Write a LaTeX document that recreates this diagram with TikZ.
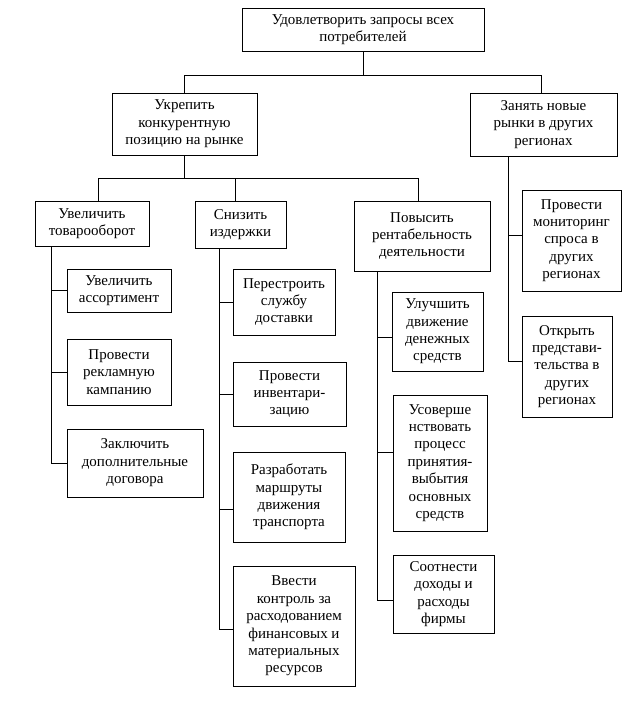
\documentclass[tikz,border=0pt]{standalone}
\usepackage{fontspec}
\setmainfont{Liberation Serif}
\usepackage{tikz}

\begin{document}
\begin{tikzpicture}[x=1pt,y=-1pt,
        goal/.style={draw, line width=0.9pt, align=center, inner sep=1pt,
          font=\fontsize{15}{17.4}\selectfont},
        boxsize/.style 2 args={minimum width=#1pt, minimum height=#2pt},
        link/.style={line width=0.9pt}
      ]
        \useasboundingbox (0,0) rectangle (628,712);

        % Main goal
        \node[goal,boxsize={242}{43}] (top) at (363,29.5) {Удовлетворить запросы всех\\потребителей};

        % Second level
        \node[goal,boxsize={145}{62}] (ukr) at (184.5,124) {Укрепить\\конкурентную\\позицию на рынке};
        \node[goal,boxsize={147}{63}] (zan) at (543.5,124.5) {Занять новые\\рынки в других\\регионах};

        % Third level
        \node[goal,boxsize={114}{45}] (uvt) at (92,223.5) {Увеличить\\товарооборот};
        \node[goal,boxsize={91}{47}] (sni) at (240.5,224.5) {Снизить\\издержки};
        \node[goal,boxsize={136}{70}] (pov) at (422,236) {Повысить\\рентабельность\\деятельности};

        % Under "Увеличить товарооборот"
        \node[goal,boxsize={104}{43}] (ass) at (119,290.5) {Увеличить\\ассортимент};
        \node[goal,boxsize={104}{66}] (rek) at (119,372) {Провести\\рекламную\\кампанию};
        \node[goal,boxsize={136}{68}] (zak) at (135,463) {Заключить\\дополнительные\\договора};

        % Under "Снизить издержки"
        \node[goal,boxsize={102}{66}] (per) at (284,302) {Перестроить\\службу\\доставки};
        \node[goal,boxsize={113}{64}] (inv) at (289.5,394) {Провести\\инвентари-\\зацию};
        \node[goal,boxsize={112}{90}] (raz) at (289,497) {Разработать\\маршруты\\движения\\транспорта};
        \node[goal,boxsize={122}{120}] (vve) at (294,626) {Ввести\\контроль за\\расходованием\\финансовых и\\материальных\\ресурсов};

        % Under "Повысить рентабельность"
        \node[goal,boxsize={91}{79}] (ulu) at (437.5,331.5) {Улучшить\\движение\\денежных\\средств};
        \node[goal,boxsize={94}{136}] (usv) at (440,463) {Усоверше\\нствовать\\процесс\\принятия-\\выбытия\\основных\\средств};
        \node[goal,boxsize={101}{78}] (soo) at (443.5,594) {Соотнести\\доходы и\\расходы\\фирмы};

        % Under "Занять новые рынки"
        \node[goal,boxsize={99}{101}] (mon) at (571.5,240.5) {Провести\\мониторинг\\спроса в\\других\\регионах};
        \node[goal,boxsize={90}{101}] (otk) at (567,366.5) {Открыть\\представи-\\тельства в\\других\\регионах};

        % Tree links
        \draw[link] (top.south) -- ++(0,24) coordinate (j0);
        \draw[link] (ukr.north) |- (j0) -| ([xshift=-2pt]zan.north);
        \draw[link] (ukr.south) -- ++(0,23) coordinate (j1);
        \draw[link] ([xshift=6pt]uvt.north) |- (j1) -| ([xshift=-4pt]pov.north);
        \draw[link] ([xshift=-5pt]sni.north) -- ([xshift=-5pt]sni.north |- j1);

        % Side rails
        \draw[link] ([xshift=17pt]uvt.south west) coordinate (r1) |- (zak.west);
        \draw[link] (ass.west) -- (ass.west -| r1);
        \draw[link] (rek.west) -- (rek.west -| r1);

        \draw[link] ([xshift=25pt]sni.south west) coordinate (r2) |- ([yshift=-3pt]vve.west);
        \draw[link] (per.west) -- (per.west -| r2);
        \draw[link] (inv.west) -- (inv.west -| r2);
        \draw[link] ([yshift=-12pt]raz.west) -- ([yshift=-12pt]raz.west -| r2);

        \draw[link] ([xshift=24pt]pov.south west) coordinate (r3) |- ([yshift=-6pt]soo.west);
        \draw[link] ([yshift=-6pt]ulu.west) -- ([yshift=-6pt]ulu.west -| r3);
        \draw[link] ([yshift=11pt]usv.west) -- ([yshift=11pt]usv.west -| r3);

        \draw[link] ([xshift=39pt]zan.south west) coordinate (r4) |- ([yshift=5pt]otk.west);
        \draw[link] ([yshift=5pt]mon.west) -- ([yshift=5pt]mon.west -| r4);
      \end{tikzpicture}
\end{document}
